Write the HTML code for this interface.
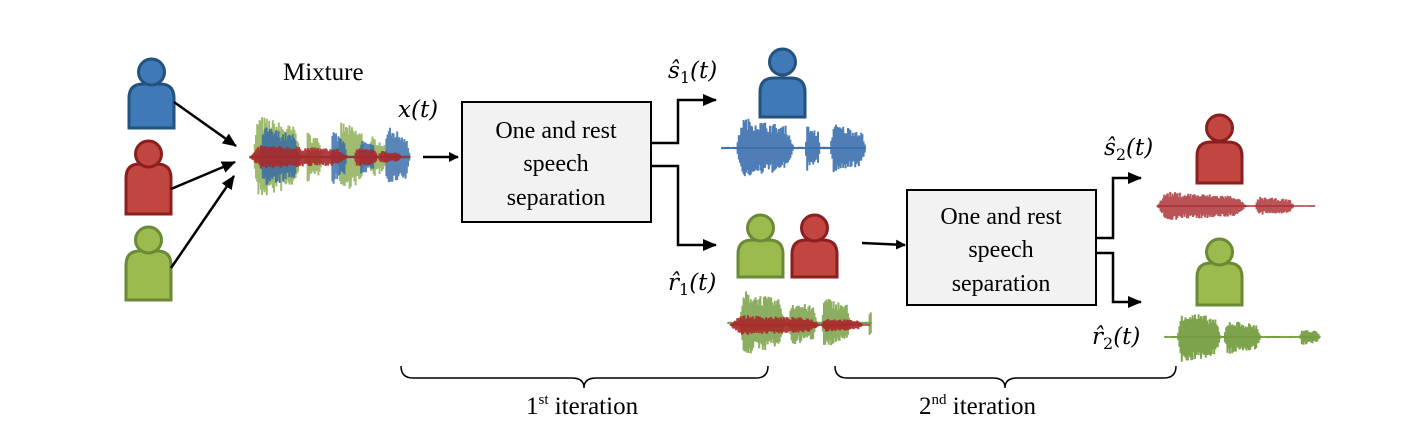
<!DOCTYPE html>
<html><head><meta charset="utf-8"><style>
body{margin:0;background:#fff;width:1411px;height:435px;overflow:hidden}
text{font-family:"Liberation Serif",serif;fill:#000}
.m{font-family:"DejaVu Serif","Liberation Serif",serif;font-style:italic}
</style></head><body>
<svg width="1411" height="435" viewBox="0 0 1411 435" xmlns="http://www.w3.org/2000/svg">
<defs>
<marker id="ah" markerWidth="10" markerHeight="10" refX="9" refY="5" orient="auto" markerUnits="userSpaceOnUse"><path d="M0,0 L10,5 L0,10 z" fill="#000"/></marker>
<marker id="ah2" markerWidth="14" markerHeight="12" refX="13" refY="6" orient="auto" markerUnits="userSpaceOnUse"><path d="M0,0 L14,6 L0,12 z" fill="#000"/></marker>
</defs>
<g id="persons"></g>
<g id="waves"></g>
<g stroke="#000" stroke-width="2.5" fill="none">
<line x1="174" y1="102" x2="236" y2="146" marker-end="url(#ah2)"/>
<line x1="171" y1="189" x2="235" y2="162" marker-end="url(#ah2)"/>
<line x1="171" y1="268" x2="234" y2="176" marker-end="url(#ah2)"/>
<line x1="423" y1="157" x2="458" y2="157" marker-end="url(#ah)"/>
<polyline points="651,143 678,143 678,100 716,100" marker-end="url(#ah2)"/>
<polyline points="651,166 678,166 678,245 716,245" marker-end="url(#ah2)"/>
<line x1="862" y1="243" x2="905" y2="245" marker-end="url(#ah)"/>
<polyline points="1096,238 1113,238 1113,178 1141,178" marker-end="url(#ah2)"/>
<polyline points="1096,253 1113,253 1113,302 1141,302" marker-end="url(#ah2)"/>
</g>
<rect x="462" y="102" width="189" height="120" fill="#f2f2f2" stroke="#000" stroke-width="2"/>
<text x="556" y="138" font-size="24" text-anchor="middle">One and rest</text>
<text x="556" y="171" font-size="24" text-anchor="middle">speech</text>
<text x="556" y="205" font-size="24" text-anchor="middle">separation</text>
<rect x="907" y="190" width="189" height="115" fill="#f2f2f2" stroke="#000" stroke-width="2"/>
<text x="1001" y="224" font-size="24" text-anchor="middle">One and rest</text>
<text x="1001" y="257" font-size="24" text-anchor="middle">speech</text>
<text x="1001" y="291" font-size="24" text-anchor="middle">separation</text>
<text x="283" y="80" font-size="25">Mixture</text>
<text x="398" y="117" font-size="23" class="m">x(t)</text>
<text x="668" y="78" font-size="23" class="m">ŝ<tspan font-size="16" dy="5" font-style="normal">1</tspan><tspan dy="-5">(t)</tspan></text>
<text x="668" y="290" font-size="23" class="m">r̂<tspan font-size="16" dy="5" font-style="normal">1</tspan><tspan dy="-5">(t)</tspan></text>
<text x="1104" y="155" font-size="23" class="m">ŝ<tspan font-size="16" dy="5" font-style="normal">2</tspan><tspan dy="-5">(t)</tspan></text>
<text x="1092" y="344" font-size="23" class="m">r̂<tspan font-size="16" dy="5" font-style="normal">2</tspan><tspan dy="-5">(t)</tspan></text>
<g stroke="#000" stroke-width="1.5" fill="none">
<path d="M401,366 Q401,378 413,378 L572,378 Q584,378 584,388 Q584,378 596,378 L756,378 Q768,378 768,366"/>
<path d="M835,366 Q835,378 847,378 L993,378 Q1005,378 1005,388 Q1005,378 1017,378 L1164,378 Q1176,378 1176,366"/>
</g>
<text x="526" y="414" font-size="25">1<tspan font-size="15" dy="-10">st</tspan><tspan dy="10"> iteration</tspan></text>
<text x="919" y="414" font-size="25">2<tspan font-size="15" dy="-10">nd</tspan><tspan dy="10"> iteration</tspan></text>
</svg>
<script>
var NS="http://www.w3.org/2000/svg";
var C={b:["#3f79b8","#24527e"],r:["#c0463f","#8b1f1f"],g:["#9bbb4f","#6a8a36"]};
function person(c,x,hy,by,bb){var g=document.getElementById("persons");var f=C[c];
var w=45,r=14;
var p=document.createElementNS(NS,"path");
p.setAttribute("d","M"+x+","+bb+" L"+x+","+(by+r)+" Q"+x+","+by+" "+(x+r)+","+by+" L"+(x+w-r)+","+by+" Q"+(x+w)+","+by+" "+(x+w)+","+(by+r)+" L"+(x+w)+","+bb+" Z");
p.setAttribute("fill",f[0]);p.setAttribute("stroke",f[1]);p.setAttribute("stroke-width","3");g.appendChild(p);
var ci=document.createElementNS(NS,"circle");ci.setAttribute("cx",x+w/2);ci.setAttribute("cy",hy);ci.setAttribute("r",13);
ci.setAttribute("fill",f[0]);ci.setAttribute("stroke",f[1]);ci.setAttribute("stroke-width","3");g.appendChild(ci);}
person("b",129,72,84,128);person("r",126,154,164,214);person("g",126,240,251,300);
person("b",760,62,78,117);person("g",738,228,240,277);person("r",792,228,240,277);
person("r",1197,128,142,183);person("g",1197,252,263,305);
var seed=7;function rnd(){seed=(seed*16807)%2147483647;return seed/2147483647;}
function wave(x0,x1,cy,amp,col,op,env){var g=document.getElementById("waves");var d="";
for(var x=x0;x<x1;x+=1.2){var t=(x-x0)/(x1-x0);var e=env(t);var a=amp*e*(0.6+0.4*rnd());var b=amp*e*(0.6+0.4*rnd());
d+="M"+x.toFixed(1)+","+(cy-a).toFixed(1)+"V"+(cy+b).toFixed(1);}
var p=document.createElementNS(NS,"path");p.setAttribute("d",d);p.setAttribute("stroke",col);p.setAttribute("stroke-opacity",op);p.setAttribute("stroke-width","2");g.appendChild(p);
var l=document.createElementNS(NS,"line");l.setAttribute("x1",x0);l.setAttribute("x2",x1);l.setAttribute("y1",cy);l.setAttribute("y2",cy);l.setAttribute("stroke",col);l.setAttribute("stroke-width","1.5");l.setAttribute("stroke-opacity",op);g.appendChild(l);}
function bumps(arr){return function(t){var v=0.04;for(var i=0;i<arr.length;i++){var q=arr[i];if(t>=q[0]&&t<=q[1]){var u=(t-q[0])/(q[1]-q[0]);v=Math.max(v,q[2]*Math.min(1,u*10)*Math.min(1,(1-u)*8)*(1-0.35*u));}}return v;}}
wave(250,410,157,44,"#7fa43f",0.75,bumps([[0.02,0.32,1],[0.35,0.45,0.6],[0.55,0.72,0.85],[0.75,0.85,0.5]]));
wave(252,410,157,36,"#2f67a8",0.8,bumps([[0.05,0.3,0.9],[0.5,0.6,0.8],[0.68,0.78,0.5],[0.84,1,0.9]]));
wave(250,410,157,13,"#a8282a",0.9,bumps([[0,0.62,0.95],[0.65,0.8,0.8],[0.8,0.95,0.5]]));
wave(722,866,148,32,"#2f67a8",0.85,bumps([[0.1,0.5,1],[0.58,0.68,0.75],[0.75,1,0.8]]));
wave(728,872,323,34,"#6f9a3a",0.8,bumps([[0.08,0.4,1],[0.42,0.62,0.7],[0.65,0.85,0.8],[0.98,1,0.4]]));
wave(730,870,325,11,"#a8282a",0.9,bumps([[0,0.65,0.95],[0.65,0.95,0.65]]));
wave(1157,1315,206,15,"#a8282a",0.8,bumps([[0,0.57,1],[0.62,0.87,0.65]]));
wave(1165,1320,337,28,"#6f9a3a",0.9,bumps([[0.08,0.36,1],[0.38,0.62,0.65],[0.87,1,0.3]]));
</script>
</body></html>
